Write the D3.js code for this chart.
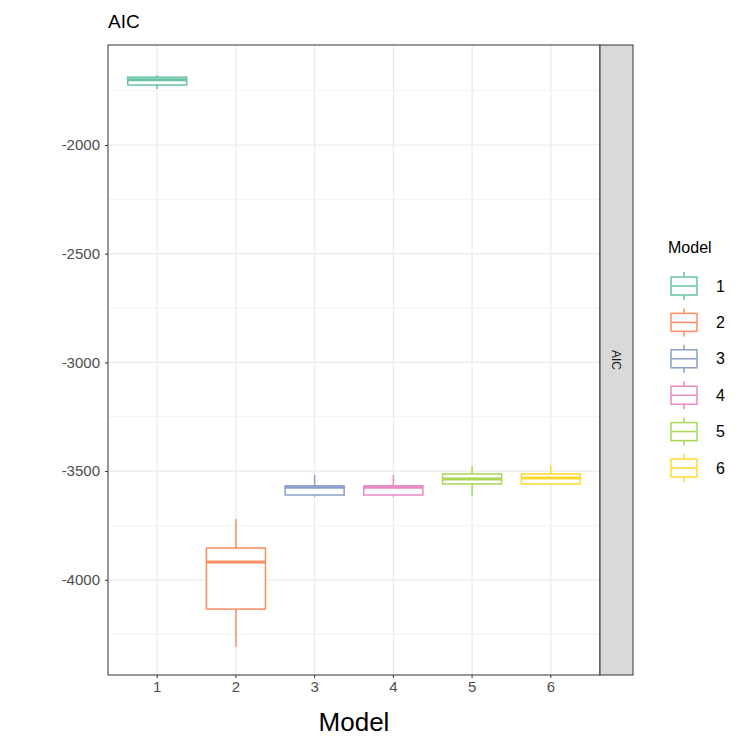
<!DOCTYPE html>
<html><head><meta charset="utf-8">
<script src="https://cdn.jsdelivr.net/npm/d3@7"></script>
<style>body{margin:0;background:#fff}text{font-family:Arimo,"Liberation Sans",Arial,sans-serif}</style>
</head><body><svg id="c" width="750" height="750"></svg>
<script>
// AIC box stats per model
var models = ["1", "2", "3", "4", "5", "6"];
var colors = ["#66C2A5", "#FC8D62", "#8DA0CB", "#E78AC3", "#A6D854", "#FFD92F"];
var whiskerHi = [-1678, -3720, -3518, -3518, -3476, -3472];
var q3 = [-1688, -3854, -3568, -3568, -3513, -3513];
var median = [-1700, -3918, -3574, -3574, -3536, -3532];
var q1 = [-1724, -4135, -3610, -3610, -3559, -3559];
var whiskerLo = [-1742, -4309, -3618, -3618, -3614, -3564];
var yTicks = [-2000, -2500, -3000, -3500, -4000];

var svg = d3.select("#c");
var L = 108, R = 600, T = 45, B = 675;
var x = d3.scaleBand().domain(models).range([L, R]).padding(0.25);
var xc = function(m) { return x(m) + x.bandwidth() / 2; };
var y = d3.scaleLinear().domain([-4438, -1540]).range([B, T]);

// minor gridlines
var minor = d3.range(-4250, -1500, 500);
svg.selectAll(".minor").data(minor).enter().append("line")
    .attr("x1", L).attr("x2", R).attr("y1", y).attr("y2", y)
    .attr("stroke", "#ebebeb").attr("stroke-width", 0.6);
svg.selectAll(".maj").data(yTicks).enter().append("line")
    .attr("x1", L).attr("x2", R).attr("y1", y).attr("y2", y)
    .attr("stroke", "#ebebeb").attr("stroke-width", 1.2);
svg.selectAll(".vmaj").data(models).enter().append("line")
    .attr("x1", xc).attr("x2", xc).attr("y1", T).attr("y2", B)
    .attr("stroke", "#ebebeb").attr("stroke-width", 1.2);

// boxes
var bw = x.bandwidth();
models.forEach(function(m, i) {
    var g = svg.append("g").attr("stroke", colors[i]).attr("fill", "none").attr("stroke-width", 1.5);
    g.append("line").attr("x1", xc(m)).attr("x2", xc(m)).attr("y1", y(whiskerHi[i])).attr("y2", y(q3[i]));
    g.append("line").attr("x1", xc(m)).attr("x2", xc(m)).attr("y1", y(q1[i])).attr("y2", y(whiskerLo[i]));
    g.append("rect").attr("x", x(m)).attr("width", bw).attr("y", y(q3[i]))
        .attr("height", y(q1[i]) - y(q3[i])).attr("fill", "#fff");
    g.append("line").attr("x1", x(m)).attr("x2", x(m) + bw).attr("y1", y(median[i])).attr("y2", y(median[i]))
        .attr("stroke-width", 3);
});

// panel border + strip
svg.append("rect").attr("x", L).attr("y", T).attr("width", R - L).attr("height", B - T)
    .attr("fill", "none").attr("stroke", "#333").attr("stroke-width", 1);
svg.append("rect").attr("x", R).attr("y", T).attr("width", 33).attr("height", B - T)
    .attr("fill", "#d9d9d9").attr("stroke", "#333").attr("stroke-width", 1);
svg.append("text").attr("transform", "translate(" + (R + 16.5) + "," + ((T + B) / 2) + ") rotate(90)")
    .attr("text-anchor", "middle").attr("dy", "0.35em").attr("font-size", 12).attr("fill", "#1a1a1a").text("AIC");

// axes
svg.append("g").attr("transform", "translate(" + L + ",0)")
    .call(d3.axisLeft(y).tickValues(yTicks).tickSize(3).tickSizeOuter(0).tickFormat(function(d) { return String(d); }))
    .call(function(g) { g.select(".domain").remove(); g.selectAll("line").attr("stroke", "#333");
        g.selectAll("text").attr("font-size", 15).attr("fill", "#4d4d4d").attr("dx", "-2"); });
svg.append("g").attr("transform", "translate(0," + B + ")")
    .call(d3.axisBottom(x).tickSize(3).tickSizeOuter(0))
    .call(function(g) { g.select(".domain").remove(); g.selectAll("line").attr("stroke", "#333");
        g.selectAll("text").attr("font-size", 15).attr("fill", "#4d4d4d"); });

svg.append("text").attr("x", (L + R) / 2).attr("y", 731).attr("text-anchor", "middle")
    .attr("font-size", 26).attr("fill", "#000").text("Model");
svg.append("text").attr("x", L).attr("y", 28).attr("font-size", 19).attr("fill", "#000").text("AIC");

// legend
var lg = svg.append("g").attr("transform", "translate(668,0)");
lg.append("text").attr("x", 0).attr("y", 253).attr("font-size", 16).text("Model");
models.forEach(function(m, i) {
    var cy = 286 + i * 36.4;
    var g = lg.append("g").attr("stroke", colors[i]).attr("fill", "none").attr("stroke-width", 1.5);
    g.append("line").attr("x1", 16).attr("x2", 16).attr("y1", cy - 14).attr("y2", cy + 14);
    g.append("rect").attr("x", 3).attr("y", cy - 9).attr("width", 26).attr("height", 18).attr("fill", "#fff");
    g.append("line").attr("x1", 3).attr("x2", 29).attr("y1", cy).attr("y2", cy);
    lg.append("text").attr("x", 48).attr("y", cy).attr("dy", "0.35em").attr("font-size", 16).text(m);
});
</script></body></html>
